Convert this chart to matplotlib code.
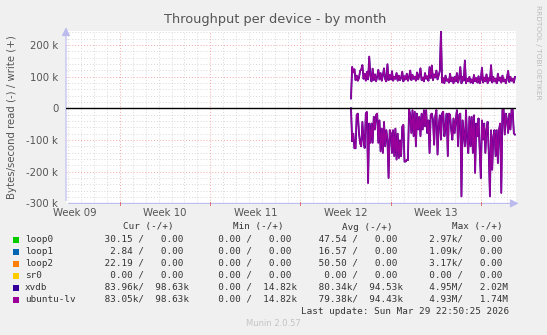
import numpy as np
import matplotlib
matplotlib.use("Agg")
import matplotlib.pyplot as plt
from matplotlib.transforms import blended_transform_factory

# ---------------- data ----------------
title = "Throughput per device - by month"
ylabel = "Bytes/second read (-) / write (+)"
week_labels = ["Week 09", "Week 10", "Week 11", "Week 12", "Week 13"]
week_label_pos = [-3.5, 3.5, 10.5, 17.5, 24.5]      # days since Monday of week 10
week_starts = [0, 7, 14, 21, 28]
y_ticks_k = [-300, -200, -100, 0, 100, 200]
y_tick_labels = ["-300 k", "-200 k", "-100 k", "0", "100 k", "200 k"]

t_start = 17.92          # days
t_step_hours = 2.12

# ubuntu-lv / xvdb write (+) in kB/s
write_k = [31, 131, 112, 124, 88, 104, 86, 96, 118, 122,
           137, 92, 110, 86, 116, 90, 164, 104, 84, 126,
           88, 108, 84, 100, 122, 90, 112, 86, 104, 127,
           92, 84, 140, 88, 106, 90, 118, 86, 100, 92,
           112, 86, 104, 88, 96, 116, 84, 102, 90, 110,
           86, 98, 120, 88, 106, 92, 100, 86, 114, 90,
           104, 127, 88, 98, 84, 112, 92, 102, 86, 131,
           94, 136, 88, 108, 96, 120, 90, 104, 118, 244,
           80, 96, 78, 104, 86, 92, 80, 110, 84, 98,
           78, 100, 84, 112, 80, 96, 131, 78, 100, 86,
           152, 78, 94, 84, 100, 80, 92, 78, 106, 84,
           96, 80, 102, 78, 90, 129, 80, 98, 84, 108,
           78, 96, 86, 137, 80, 100, 84, 94, 78, 110,
           86, 98, 80, 104, 84, 92, 78, 96, 119, 82,
           100, 86, 94, 80, 99]

# ubuntu-lv / xvdb read (-) in kB/s (drawn negative)
read_k = [0, -105, -79, -126, -126, -21, -16, -79, -110, -121,
          -42, -100, -126, -16, -11, -237, -47, -110, -47, -110,
          -26, -68, -21, -16, -110, -37, -137, -63, -142, -42,
          -121, -68, -100, -221, -68, -79, -142, -68, -152, -63,
          -163, -79, -158, -100, -152, -58, -52, -168, -168, -163,
          -163, -2, -21, -79, -5, -89, -10, -121, -16, -68,
          -26, -89, -16, -68, -5, -58, -5, -79, -37, -142,
          -21, -16, -37, -116, -26, -5, -147, -58, -21, -100,
          -16, -10, -89, -58, -16, -152, -16, -21, -68, -100,
          -31, -79, -37, -5, -121, -21, -16, -279, -37, -79,
          -121, -5, -100, -142, -26, -121, -26, -142, -21, -205,
          -47, -89, -31, -131, -221, -37, -100, -47, -142, -68,
          -42, -142, -279, -68, -195, -89, -68, -152, -68, -174,
          -68, -47, -268, -5, -2, -84, -16, -37, -79, -16,
          -68, -5, -5, -79, -83]

series_names = ["loop0", "loop1", "loop2", "sr0", "xvdb", "ubuntu-lv"]
series_colors = ["#00CC00", "#0066B3", "#FF8000", "#FFCC00", "#330099", "#990099"]
# (read, write) pairs in bytes/s
cur_vals = [(30.15, 0), (2.84, 0), (22.19, 0), (0, 0), (83960, 98630), (83050, 98630)]
min_vals = [(0, 0), (0, 0), (0, 0), (0, 0), (0, 14820), (0, 14820)]
avg_vals = [(47.54, 0), (16.57, 0), (50.50, 0), (0, 0), (80340, 94530), (79380, 94430)]
max_vals = [(2970, 0), (1090, 0), (3170, 0), (0, 0), (4950000, 2020000), (4930000, 1740000)]
last_update = "Last update: Sun Mar 29 22:50:25 2026"
footer = "Munin 2.0.57"

# ---------------- figure ----------------
W, H = 547, 335
fig = plt.figure(figsize=(W / 100, H / 100), dpi=100)
fig.patch.set_facecolor("#F0F0F0")

L, R, T, B = 66, 516, 30.6, 203.4
ax = fig.add_axes([L / W, 1 - B / H, (R - L) / W, (B - T) / H])
ax.set_facecolor("white")
for s in ax.spines.values():
    s.set_visible(False)

xmin, xmax = -4.19, 30.72
ymin, ymax = -300, 245
ax.set_xlim(xmin, xmax)
ax.set_ylim(ymin, ymax)

# grids
minor_col = "#D8D8D8"
major_col = "#F2A8A8"
for d in range(-4, 31):
    if d not in week_starts:
        ax.axvline(d, color=minor_col, lw=0.7, ls=(0, (1, 2)), zorder=1)
for d in week_starts:
    ax.axvline(d, color=major_col, lw=0.7, ls=(0, (1, 2)), zorder=1.5)
for v in range(-280, 245, 20):
    if v % 100 != 0:
        ax.axhline(v, color=minor_col, lw=0.7, ls=(0, (1, 2)), zorder=1)
for v in y_ticks_k:
    if v != 0:
        ax.axhline(v, color=major_col, lw=0.7, ls=(0, (1, 2)), zorder=1.5)

# data
n = len(write_k)
t = t_start + np.arange(n) * t_step_hours / 24.0
w = np.array(write_k, dtype=float)
r = np.array(read_k, dtype=float)
ax.plot(t, w, color=series_colors[4], lw=1.3, zorder=3, solid_joinstyle="miter")
ax.plot(t, r, color=series_colors[4], lw=1.3, zorder=3, solid_joinstyle="miter")
ax.plot(t, w, color=series_colors[5], lw=1.0, zorder=4)
ax.plot(t, r, color=series_colors[5], lw=1.0, zorder=4)

# zero line
ax.axhline(0, color="black", lw=1.0, zorder=5)

# ticks
ax.set_yticks(y_ticks_k)
ax.set_yticklabels(y_tick_labels)
ax.tick_params(axis="y", length=0, pad=5.5, labelsize=7.3, labelcolor="#555555")
ax.set_xticks([])
tr = blended_transform_factory(ax.transData, ax.transAxes)
for pos, lab in zip(week_label_pos, week_labels):
    ax.text(pos, -0.025, lab, transform=tr, ha="center", va="top",
            fontsize=7.3, color="#555555")

# axis lines with arrows
axis_col = "#BBBBEE"
ax.annotate("", xy=(1.012, 0), xytext=(0, 0), xycoords="axes fraction",
            arrowprops=dict(arrowstyle="-|>,head_length=0.5,head_width=0.25",
                            color=axis_col, lw=0.8), annotation_clip=False)
ax.annotate("", xy=(0, 1.035), xytext=(0, 0), xycoords="axes fraction",
            arrowprops=dict(arrowstyle="-|>,head_length=0.5,head_width=0.25",
                            color=axis_col, lw=0.8), annotation_clip=False)
# small tick marks on axes at major lines
for d in week_starts:
    ax.plot([d, d], [ymin - 4, ymin + 4], color="#E07070", lw=0.7, clip_on=False, zorder=6)

# title and labels
fig.text(275 / W, 1 - 19.5 / H, title, ha="center", va="center",
         fontsize=9.3, color="#555555")
fig.text(12 / W, 1 - 117 / H, ylabel, ha="center", va="center",
         rotation=90, fontsize=7.3, color="#555555")
fig.text(538 / W, 1 - 5 / H, "RRDTOOL / TOBI OETIKER", ha="center", va="top",
         rotation=270, fontsize=5.3, color="#BBBBBB")

# legend
mono = "DejaVu Sans Mono"
fs = 6.7
tc = "#333333"


def fmt(v):
    units = [(1e6, "M"), (1e3, "k")]
    for div, u in units:
        if abs(v) >= div:
            return "%6.2f%s" % (v / div, u)
    return "%6.2f " % v


def pair(p, first_width=6):
    a = fmt(p[0])
    b = fmt(p[1])
    return "%s/ %s" % (a, b)


def fy(y):
    return 1 - y / H


headers = ["Cur (-/+)", "Min (-/+)", "Avg (-/+)", "Max (-/+)"]
header_right = [174, 284, 393, 503]
for h, xr in zip(headers, header_right):
    fig.text(xr / W, fy(227), h, ha="right", va="center", family=mono,
             fontsize=fs, color=tc)

col_left = [99.4, 207.1, 313.0, 418.0]
row_y = [239.5, 251.5, 263.5, 275.5, 287.5, 299.5]
cols = [cur_vals, min_vals, avg_vals, max_vals]
for i, name in enumerate(series_names):
    y = row_y[i]
    fig.patches.append(plt.Rectangle((13 / W, fy(y + 3)), 6 / W, 6 / H,
                                     transform=fig.transFigure,
                                     facecolor=series_colors[i], edgecolor="none"))
    fig.text(25 / W, fy(y), name, ha="left", va="center", family=mono,
             fontsize=fs, color=tc)
    for c, xl in zip(cols, col_left):
        fig.text(xl / W, fy(y), pair(c[i]), ha="left", va="center",
                 family=mono, fontsize=fs, color=tc)

fig.text(509 / W, fy(311.7), last_update, ha="right", va="center",
         family=mono, fontsize=fs, color=tc)
fig.text(273 / W, fy(324), footer, ha="center", va="center",
         fontsize=6.0, color="#C4C4C4")

fig.savefig("out.png", dpi=100, facecolor=fig.get_facecolor())
